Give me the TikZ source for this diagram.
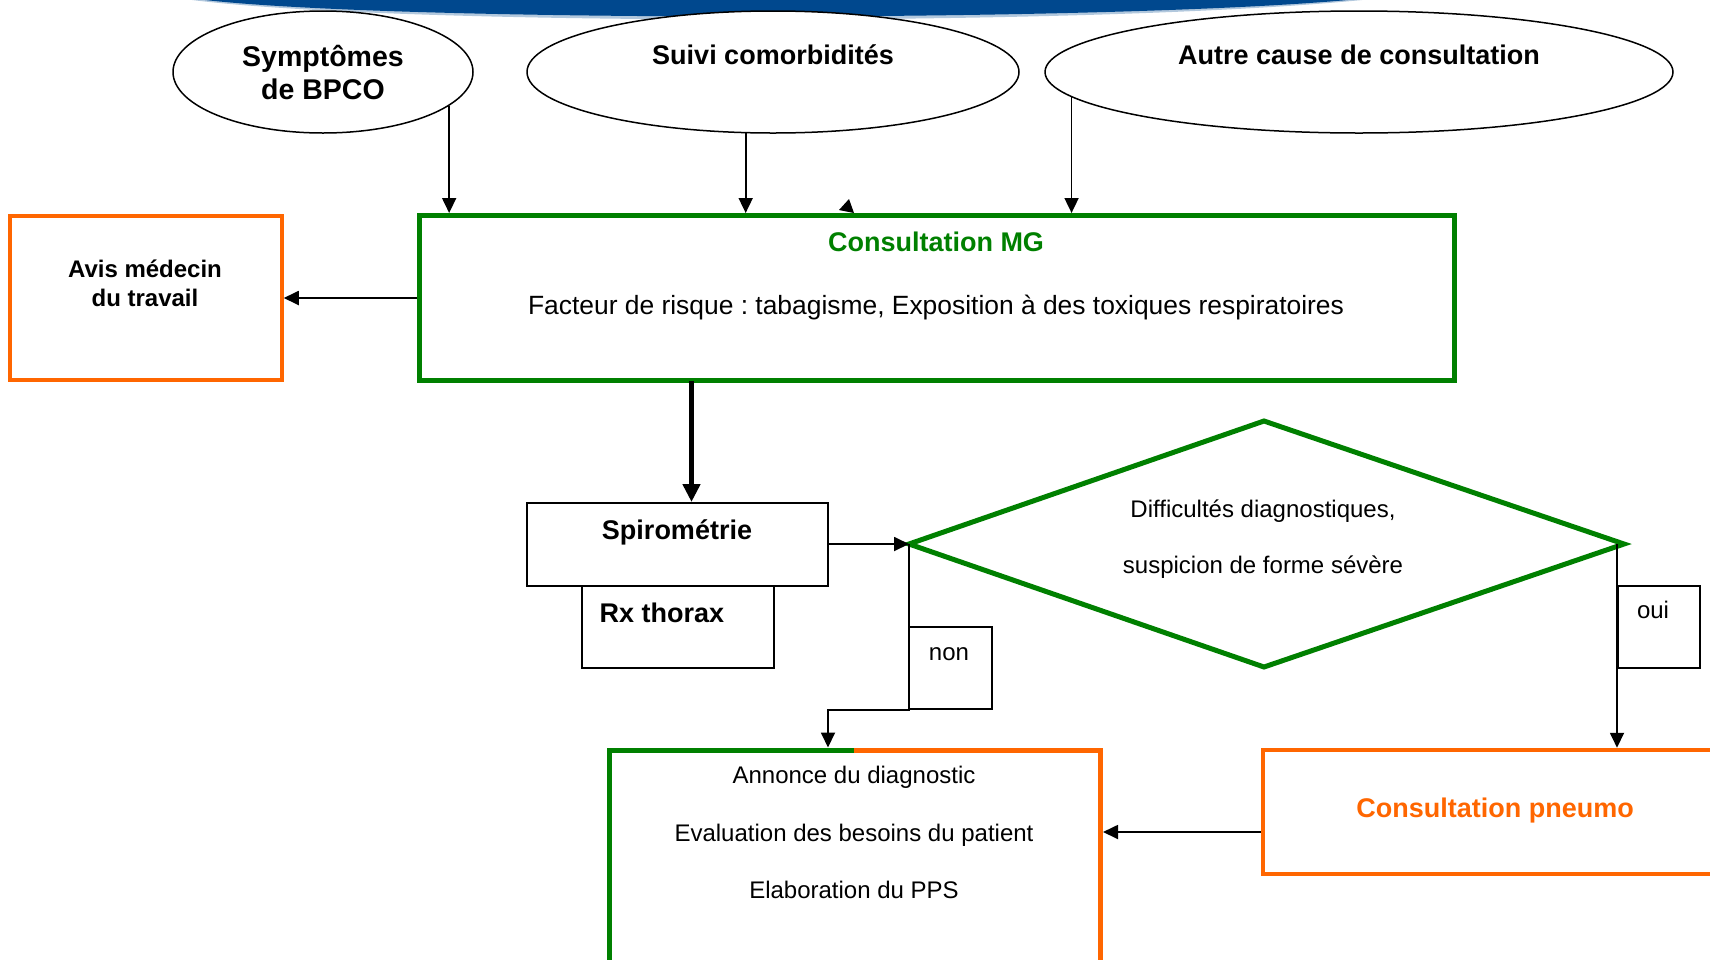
\documentclass[tikz,border=0pt]{standalone}
\usepackage{fontspec}
\setmainfont{Liberation Sans}
\usetikzlibrary{shapes.geometric,arrows.meta}
\definecolor{mggreen}{RGB}{0,128,0}
\definecolor{orng}{RGB}{255,102,0}
\definecolor{band}{RGB}{0,72,142}
\frenchspacing
\begin{document}
\begin{tikzpicture}[x=1pt,y=-1pt,
  lbl/.style={font=\fontsize{24}{28}\selectfont, anchor=base, inner sep=0},
  blbl/.style={font=\fontsize{27}{31}\selectfont\bfseries, anchor=base, inner sep=0},
  bubble/.style={ellipse, draw, fill=white, line width=1.5pt, inner sep=0, minimum height=122pt},
  greenbox/.style={draw=mggreen, line width=5pt, inner sep=0},
  orangebox/.style={draw=orng, line width=4pt, inner sep=0},
  plainbox/.style={draw, line width=2pt, inner sep=0},
  arr/.style={line width=1.8pt, -{Triangle[length=15pt,width=14pt]}},
  bigarr/.style={line width=4.5pt, -{Triangle[length=18pt,width=17pt]}}
]
\useasboundingbox (0,0) rectangle (1710,959);

% header band
\fill[band!30!white] (192,-5) -- (192,0) .. controls (400,26) and (1100,26) .. (1362,0) -- (1362,-5) -- cycle;
\fill[band] (205,-5) -- (205,0) .. controls (400,22) and (1100,22) .. (1348,0) -- (1348,-5) -- cycle;

% entry points
\node[bubble, minimum width=300pt] (e1) at (323,72) {};
\node[bubble, minimum width=492pt] (e2) at (773,72) {};
\node[bubble, minimum width=628pt] (e3) at (1359,72) {};
\node[blbl, font=\fontsize{28.5}{32}\selectfont\bfseries] (t1a) at (323,66) {Symptômes};
\node[blbl, font=\fontsize{28.5}{32}\selectfont\bfseries] (t1b) at (323,99) {de BPCO};
\node[blbl] (t2) at (773,64) {Suivi comorbidités};
\node[blbl] (t3) at (1359,64) {Autre cause de consultation};

% GP consultation
\node[greenbox, minimum width=1034.5pt, minimum height=165pt] (mg) at (936.75,298) {};
\node[blbl] (mgt) at (936,251) {\textcolor{mggreen}{Consultation MG}};
\node[lbl, font=\fontsize{26.4}{30}\selectfont] (mgr) at (936,314) {Facteur de risque : tabagisme, Exposition à des toxiques respiratoires};

\draw[arr] (e1.-15.2) -- (e1.-15.2 |- mg.north);
\draw[arr] (e2.246) -- (e2.246 |- mg.north);
\draw[arr] (e3.185) -- (e3.185 |- mg.north);
\fill (839,210) -- (849,199) -- (854,213) -- cycle;

% occupational physician
\node[orangebox, line width=3.5pt, minimum width=272pt, minimum height=164pt] (avis) at (146,298) {};
\node[lbl, font=\fontsize{24}{28}\selectfont\bfseries] (avt1) at (145,277) {Avis médecin};
\node[lbl, font=\fontsize{24}{28}\selectfont\bfseries] (avt2) at (145,306) {du travail};
\draw[arr] (mg.west) -- (avis.east);

% examinations
\node[plainbox, minimum width=192pt, minimum height=82pt] (rx) at (678,627) {};
\node[plainbox, minimum width=301pt, minimum height=83pt] (spiro) at (677.5,544.5) {};
\node[blbl] (spt) at (677,539) {Spirométrie};
\node[blbl] (rxt) at (662,622) {Rx thorax};
\coordinate (tk) at (691.5,381);
\draw[bigarr] (tk) -- (tk |- spiro.north);

% decision
\coordinate (dl) at (909,544);
\coordinate (dt) at (1264,421);
\coordinate (dr) at (1624,544);
\coordinate (db) at (1264,667);
\draw[mggreen, line width=5pt] (dl) -- (dt) -- (dr) -- (db) -- cycle;
\node[lbl] (dq1) at (1263,517) {Difficultés diagnostiques,};
\node[lbl] (dq2) at (1263,573) {suspicion de forme sévère};
\draw[arr] (spiro.east |- dl) -- (dl);

% answer tags
\node[plainbox, minimum width=83pt, minimum height=82pt] (nonb) at (950.5,668) {};
\node[lbl] (nont) at (949,660) {non};
\node[plainbox, minimum width=82pt, minimum height=82pt] (ouib) at (1659,627) {};
\node[lbl] (ouit) at (1653,618) {oui};

% specialist consultation
\node[orangebox, line width=4.5pt, minimum width=497pt, minimum height=124pt] (pn) at (1511.5,812) {};
\node[blbl] (pnt) at (1495,817) {\textcolor{orng}{Consultation pneumo}};

% care plan
\coordinate (botL) at (609,750);
\coordinate (botM) at (854,750);
\coordinate (botR) at (1100,750);
\coordinate (botTop) at (828,747.5);
\coordinate (botE) at (1103,832);
\draw[mggreen, line width=5pt] (botL |- 0,965) -- (botL) -- (botM);
\draw[orng, line width=5pt] (botM) -- (botR) -- (botR |- 0,965);
\node[lbl] (c1) at (854,783) {Annonce du diagnostic};
\node[lbl] (c2) at (854,841) {Evaluation des besoins du patient};
\node[lbl] (c3) at (854,898) {Elaboration du PPS};

% branches
\draw[arr] (dl) -- (dl |- nonb.south) -- (botTop |- nonb.south) -- (botTop);
\draw[arr] (ouib.west |- dr) -- (ouib.west |- pn.north);
\draw[arr] (pn.west |- botE) -- (botE);
\end{tikzpicture}
\end{document}
